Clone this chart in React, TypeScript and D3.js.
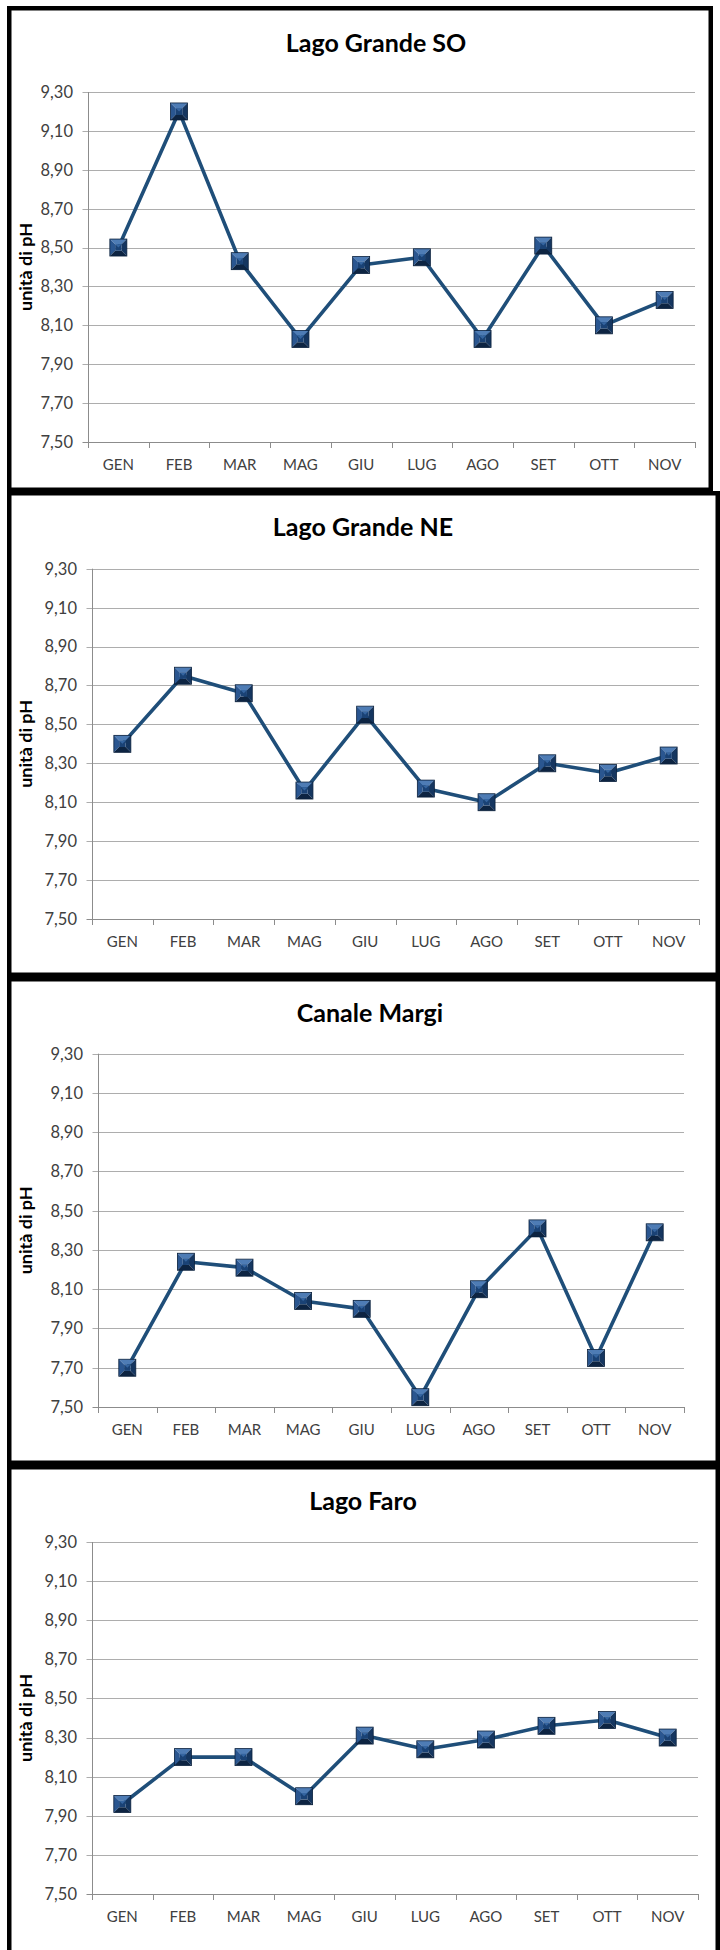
import React from "react";
import * as d3 from "d3";

// ---- data ----
const months = ["GEN", "FEB", "MAR", "MAG", "GIU", "LUG", "AGO", "SET", "OTT", "NOV"];
const yTickValues = [7.5, 7.7, 7.9, 8.1, 8.3, 8.5, 8.7, 8.9, 9.1, 9.3];
const yTitle = "unità di pH";

const titleSO = "Lago Grande SO";
const valuesSO = [8.5, 9.2, 8.43, 8.03, 8.41, 8.45, 8.03, 8.51, 8.1, 8.23];

const titleNE = "Lago Grande NE";
const valuesNE = [8.4, 8.75, 8.66, 8.16, 8.55, 8.17, 8.1, 8.3, 8.25, 8.34];

const titleMargi = "Canale Margi";
const valuesMargi = [7.7, 8.24, 8.21, 8.04, 8.0, 7.55, 8.1, 8.41, 7.75, 8.39];

const titleFaro = "Lago Faro";
const valuesFaro = [7.96, 8.2, 8.2, 8.0, 8.31, 8.24, 8.29, 8.36, 8.39, 8.3];

// ---- layout (positions only) ----
const panels = [
  { title: titleSO, values: valuesSO, box: [7, 6, 713, 492], plot: [88, 695, 92, 442], titleX: 376, titleY: 52 },
  { title: titleNE, values: valuesNE, box: [7, 491, 720, 977], plot: [92, 699, 568.7, 919], titleX: 363, titleY: 536 },
  { title: titleMargi, values: valuesMargi, box: [7, 977, 720, 1465], plot: [98, 684, 1053.7, 1407], titleX: 370, titleY: 1022 },
  { title: titleFaro, values: valuesFaro, box: [7, 1465, 720, 1960], plot: [92, 698, 1542, 1894], titleX: 363, titleY: 1510 },
];

const itFormat = d3.formatLocale({ decimal: ",", thousands: ".", grouping: [3], currency: ["€", ""] }).format(".2f");

const FONT = "Lato, 'Open Sans', sans-serif";
const LINE = "#1F4E79";

function Marker({ cx, cy }: { cx: number; cy: number }) {
  const s = 8.5;
  const i = 3.2;
  const pts = (arr: number[][]) => arr.map(([x, y]) => `${cx + x},${cy + y}`).join(" ");
  return (
    <g>
      <polygon points={pts([[-s, -s], [s, -s], [i, -i], [-i, -i]])} fill="#4E7CB5" />
      <polygon points={pts([[-s, -s], [-i, -i], [-i, i], [-s, s]])} fill="#2A5690" />
      <polygon points={pts([[s, -s], [s, s], [i, i], [i, -i]])} fill="#153660" />
      <polygon points={pts([[-s, s], [-i, i], [i, i], [s, s]])} fill="#0D2442" />
      <polygon points={pts([[-i, -i], [i, -i], [i, i], [-i, i]])} fill="#1A4275" />
      <polygon points={pts([[-i, -i], [i, -i], [0, 0]])} fill="#3565A0" />
      <rect x={cx - s} y={cy - s} width={2 * s} height={2 * s} fill="none" stroke="#0B213D" strokeWidth={0.8} />
    </g>
  );
}

function Panel({ p }: { p: (typeof panels)[number] }) {
  const [bx0, by0, bx1, by1] = p.box;
  const [xL, xR, yT, yB] = p.plot;
  const b = 4.5;
  const x = d3.scaleBand<string>().domain(months).range([xL, xR]).padding(0);
  const y = d3.scaleLinear().domain([7.5, 9.3]).range([yB, yT]);
  const cx = (m: string) => (x(m) as number) + x.bandwidth() / 2;
  const line = d3
    .line<number>()
    .x((_, k) => cx(months[k]))
    .y((v) => y(v));
  const boundaries = months.map((m) => x(m) as number).concat([xR]);
  const midY = (yT + yB) / 2;
  return (
    <g>
      <rect x={bx0} y={by0} width={bx1 - bx0} height={by1 - by0} fill="#000" />
      <rect x={bx0 + b} y={by0 + b} width={bx1 - bx0 - 2 * b} height={by1 - by0 - 2 * b} fill="#fff" />
      <text x={p.titleX} y={p.titleY} textAnchor="middle" fontFamily={FONT} fontWeight={700} fontSize={25} fill="#000">
        {p.title}
      </text>
      {yTickValues.map((t) => (
        <g key={t}>
          <line x1={xL - 5.5} x2={xR} y1={Math.round(y(t)) + 0.5} y2={Math.round(y(t)) + 0.5} stroke={t === 7.5 ? "#8C8C8C" : "#ADADAD"} strokeWidth={1} />
          <text x={xL - 15} y={y(t)} dy="0.36em" textAnchor="end" fontFamily={FONT} fontSize={16.5} fill="#404040">
            {itFormat(t)}
          </text>
        </g>
      ))}
      <line x1={Math.round(xL) + 0.5} x2={Math.round(xL) + 0.5} y1={yT} y2={yB + 6} stroke="#8C8C8C" strokeWidth={1} />
      {boundaries.map((bx, k) => (
        <line key={k} x1={Math.round(bx) + 0.5} x2={Math.round(bx) + 0.5} y1={yB} y2={yB + 6} stroke="#8C8C8C" strokeWidth={1} />
      ))}
      {months.map((m) => (
        <text key={m} x={cx(m)} y={yB + 27.5} textAnchor="middle" fontFamily={FONT} fontSize={15} fill="#404040">
          {m}
        </text>
      ))}
      <text
        transform={`translate(32,${midY}) rotate(-90)`}
        textAnchor="middle"
        fontFamily={FONT}
        fontWeight={700}
        fontSize={17}
        textLength={88}
        lengthAdjust="spacingAndGlyphs"
        fill="#000"
      >
        {yTitle}
      </text>
      <path d={line(p.values) || ""} fill="none" stroke={LINE} strokeWidth={3.6} strokeLinejoin="round" />
      {p.values.map((v, k) => (
        <Marker key={k} cx={cx(months[k])} cy={y(v)} />
      ))}
    </g>
  );
}

export default function App() {
  return (
    <svg
      width={720}
      height={1950}
      viewBox="0 0 720 1950"
      style={{ position: "absolute", left: 0, top: 0, display: "block", background: "#fff" }}
    >
      <rect x={0} y={0} width={720} height={1950} fill="#fff" />
      {panels.map((p, i) => (
        <Panel key={i} p={p} />
      ))}
    </svg>
  );
}
